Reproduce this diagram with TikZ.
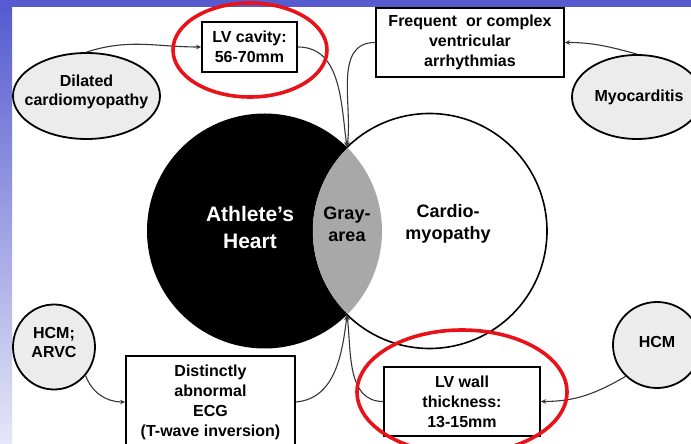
\documentclass[tikz,border=0pt]{standalone}
\usepackage{fontspec}
\setmainfont{Liberation Sans}
\usetikzlibrary{arrows.meta,shapes.geometric}
\definecolor{bandblue}{RGB}{86,92,208}
\definecolor{bandlight}{RGB}{230,231,247}
\definecolor{redring}{RGB}{232,18,24}
\definecolor{lensgray}{RGB}{168,168,168}
\definecolor{ovalfill}{RGB}{236,236,236}
\definecolor{linegray}{RGB}{55,55,55}
\begin{document}
\begin{tikzpicture}[x=1pt,y=1pt,
  boxnode/.style={draw=black, line width=1.8pt, fill=white, align=center,
    font=\bfseries\fontsize{16}{20}\selectfont, inner sep=0pt},
  ovalnode/.style={ellipse, draw=black, line width=1.8pt, fill=ovalfill, inner sep=0pt},
  ovaltext/.style={align=center, inner sep=0pt, font=\bfseries\fontsize{16}{19.5}\selectfont},
  conn/.style={draw=linegray, line width=1.1pt, -{Stealth[length=5pt,width=4.5pt]}},
  ringline/.style={draw=redring, line width=3.6pt},
  bigtext/.style={align=center, inner sep=0pt}]
\useasboundingbox (0,0) rectangle (691,444);
\clip (0,0) rectangle (691,444);
% frame
\fill[white] (0,0) rectangle (691,444);
\shade[top color=bandblue, bottom color=bandlight] (0,0) rectangle (12,437);
\fill[bandblue] (0,437) rectangle (691,444);
% Venn circles
\fill[black] (264.5,213) circle (117.5);
\filldraw[fill=white, draw=black, line width=1.6pt] (429.5,213) circle (117.5);
\begin{scope}
  \clip (264.5,213) circle (117.5);
  \fill[lensgray] (429.5,213) circle (116.7);
\end{scope}
\coordinate (lenstop) at (347,297);
\coordinate (lensbot) at (347,129);
% circle labels
\node[bigtext, text=white, font=\bfseries\fontsize{21}{27}\selectfont] (ath) at (250,217) {Athlete’s\\Heart};
\node[bigtext, font=\bfseries\fontsize{18}{22}\selectfont] (gray) at (347,220) {Gray-\\area};
\node[bigtext, font=\bfseries\fontsize{18}{22}\selectfont] (cm) at (448,220) {Cardio-\\myopathy};
% boxes
\node[boxnode, minimum width=95, minimum height=50] (lvc) at (249.5,397) {LV cavity:\\56-70mm};
\node[boxnode, minimum width=188, minimum height=69] (freq) at (470,401.5) {Frequent\hspace{0.3em} or complex\\ventricular\\arrhythmias};
\node[boxnode, minimum width=169, minimum height=92] (ecg) at (210.5,42) {Distinctly\\abnormal\\ECG\\(T-wave inversion)};
\node[boxnode, minimum width=156, minimum height=69] (lvw) at (462,42.5) {LV wall\\thickness:\\13-15mm};
% ovals
\node[ovalnode, minimum width=147, minimum height=86] (dil) at (86.5,348) {};
\node[ovaltext] (diltext) at (86.5,352) {Dilated\\cardiomyopathy};
\node[ovalnode, minimum width=130, minimum height=84] (myo) at (637,347) {};
\node[ovaltext] (myotext) at (639,347) {Myocarditis};
\node[ovalnode, minimum width=82, minimum height=85] (arvc) at (54,97) {};
\node[ovaltext] (arvctext) at (54,101.5) {HCM;\\ARVC};
\node[ovalnode, minimum width=88, minimum height=86] (hcm) at (657,99) {};
\node[ovaltext] (hcmtext) at (657,102) {HCM};
% connectors
\draw[conn] (dil.north) to[out=18, in=180] (lvc.west);
\draw[conn] (lvc.east) to[out=0, in=98] (lenstop);
\draw[conn] (freq.west) to[out=180, in=82] (lenstop);
\draw[conn] (myo.north) to[out=165, in=0] (freq.east);
\draw[conn] (arvc.-42) to[out=-70, in=180] (ecg.west);
\draw[conn] (ecg.east) to[out=5, in=-97] (lensbot);
\draw[conn] (lvw.west) to[out=180, in=-83] (lensbot);
\draw[conn] (hcm.-135) to[out=-150, in=0] (lvw.east);
% red highlight rings
\draw[ringline] (250,394) ellipse [x radius=77, y radius=47];
\draw[ringline] (462,52) ellipse [x radius=105, y radius=62];
\end{tikzpicture}
\end{document}
